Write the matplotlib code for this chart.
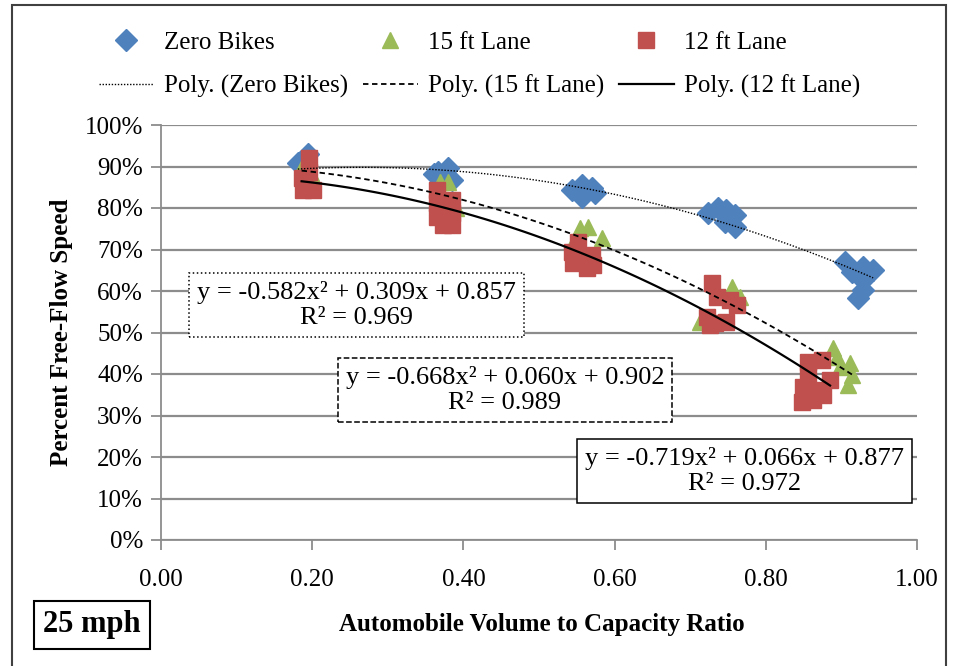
import numpy as np
import matplotlib
matplotlib.use('Agg')
import matplotlib.pyplot as plt
from matplotlib.patches import Rectangle
from matplotlib.lines import Line2D

plt.rcParams['font.family'] = ['Liberation Serif', 'DejaVu Serif']

# данные (v/c, доля скорости свободного потока)
zero_x = [0.181, 0.194, 0.361, 0.366, 0.380, 0.385,
          0.544, 0.557, 0.570, 0.557, 0.574,
          0.724, 0.737, 0.748, 0.759, 0.746, 0.759,
          0.905, 0.914, 0.929, 0.942, 0.929, 0.929, 0.922]
zero_y = [0.908, 0.930, 0.882, 0.887, 0.896, 0.867,
          0.843, 0.855, 0.848, 0.827, 0.836,
          0.787, 0.800, 0.796, 0.783, 0.766, 0.754,
          0.670, 0.646, 0.658, 0.651, 0.627, 0.602, 0.583]

lane15_x = [0.186, 0.198, 0.369, 0.380, 0.390,
            0.554, 0.565, 0.583, 0.545,
            0.755, 0.766, 0.713,
            0.889, 0.894, 0.898, 0.911, 0.914, 0.909]
lane15_y = [0.900, 0.885, 0.863, 0.863, 0.800,
            0.752, 0.755, 0.728, 0.716,
            0.610, 0.585, 0.525,
            0.462, 0.441, 0.417, 0.426, 0.398, 0.373]

lane12_x = [0.196, 0.196, 0.186, 0.188, 0.201, 0.190,
            0.365, 0.365, 0.365, 0.373, 0.385, 0.385, 0.385,
            0.552, 0.552, 0.545, 0.563, 0.570, 0.571, 0.544,
            0.729, 0.735, 0.753, 0.762, 0.722, 0.733, 0.748, 0.726,
            0.856, 0.874, 0.856, 0.885, 0.849, 0.867, 0.876, 0.848, 0.863]
lane12_y = [0.920, 0.887, 0.872, 0.843, 0.843, 0.860,
            0.843, 0.812, 0.779, 0.759, 0.759, 0.788, 0.820,
            0.718, 0.687, 0.667, 0.655, 0.687, 0.663, 0.694,
            0.619, 0.586, 0.578, 0.566, 0.537, 0.522, 0.526, 0.518,
            0.429, 0.434, 0.398, 0.386, 0.369, 0.361, 0.349, 0.333, 0.337]

# коэффициенты полиномиальных трендов (a, b, c) и R²
zero_coef = [-0.582, 0.309, 0.857]
lane15_coef = [-0.668, 0.060, 0.902]
lane12_coef = [-0.719, 0.066, 0.877]
r2 = [0.969, 0.989, 0.972]

blue = '#4F81BD'
green = '#9BBB59'
red = '#C0504D'
grid_c = '#8C8C8C'
FS = 18

fig = plt.figure(figsize=(9.55, 6.66), dpi=100)
ax = fig.add_axes([161 / 955, 126 / 666, 756 / 955, 415 / 666])

ax.plot(zero_x, zero_y, 'D', color=blue, ms=11, mec=blue, zorder=3)
ax.plot(lane15_x, lane15_y, '^', color=green, ms=12, mec=green, zorder=4)
ax.plot(lane12_x, lane12_y, 's', color=red, ms=11, mec=red, zorder=5)

styles = [(zero_x, zero_coef, (0, (1, 1.2)), 1.0),
          (lane15_x, lane15_coef, (0, (3, 2)), 1.3),
          (lane12_x, lane12_coef, '-', 1.6)]
for xs, coef, ls, lw in styles:
    xx = np.linspace(min(xs), max(xs), 100)
    ax.plot(xx, np.polyval(coef, xx), color='black', ls=ls, lw=lw, zorder=6)

ax.set_xlim(0, 1)
ax.set_ylim(0, 1)
ax.set_xticks(np.arange(0, 1.01, 0.2))
ax.set_xticklabels([f'{v:.2f}' for v in np.arange(0, 1.01, 0.2)])
ax.set_yticks(np.arange(0, 1.01, 0.1))
ax.set_yticklabels([f'{int(round(v * 100))}%' for v in np.arange(0, 1.01, 0.1)])
ax.tick_params(labelsize=FS, colors=grid_c, labelcolor='black', length=7, width=1.3, pad=6)
ax.tick_params(axis='x', pad=14)
ax.grid(axis='y', color=grid_c, lw=1.6)
ax.set_axisbelow(True)
for s in ['top', 'right']:
    ax.spines[s].set_visible(False)
for s in ['left', 'bottom']:
    ax.spines[s].set_color(grid_c)
    ax.spines[s].set_linewidth(1.3)

ax.set_ylabel('Percent Free-Flow Speed', fontsize=FS, fontweight='bold', labelpad=8)
fig.text(0.567, 0.062, 'Automobile Volume to Capacity Ratio', fontsize=FS,
         fontweight='bold', ha='center', va='center')
fig.text(0.0963, 0.0616, '25 mph', fontsize=22, fontweight='bold', ha='center', va='center',
         bbox=dict(boxstyle='square,pad=0.3', fc='white', ec='black', lw=1.5))


def eq_text(coef, r):
    return (f'y = {coef[0]:.3f}x² + {coef[1]:.3f}x + {coef[2]:.3f}\n'
            f'R² = {r:.3f}')


boxes = [(0.259, 0.566, zero_coef, r2[0], ':'),
         (0.455, 0.361, lane15_coef, r2[1], '--'),
         (0.772, 0.166, lane12_coef, r2[2], '-')]
for bx, by, coef, r, ls in boxes:
    ax.text(bx, by, eq_text(coef, r), transform=ax.transAxes, fontsize=19,
            ha='center', va='center', multialignment='center', zorder=7, linespacing=1.2,
            bbox=dict(boxstyle='square,pad=0.3', fc='white', ec='black', lw=1.1, ls=ls))

handles = [
    Line2D([], [], ls='none', marker='D', color=blue, ms=11),
    Line2D([], [], color='black', ls=(0, (1, 1.2)), lw=1.0),
    Line2D([], [], ls='none', marker='^', color=green, ms=12),
    Line2D([], [], color='black', ls=(0, (3, 2)), lw=1.3),
    Line2D([], [], ls='none', marker='s', color=red, ms=11),
    Line2D([], [], color='black', ls='-', lw=1.6),
]
labels = ['Zero Bikes', 'Poly. (Zero Bikes)', '15 ft Lane', 'Poly. (15 ft Lane)',
          '12 ft Lane', 'Poly. (12 ft Lane)']
fig.legend(handles, labels, ncol=3, loc='center', bbox_to_anchor=(0.502, 0.903),
           frameon=False, fontsize=FS, handlelength=2.2, handletextpad=0.4,
           columnspacing=0.6, labelspacing=0.85)

fig.add_artist(Rectangle((12 / 955, -0.05), 934 / 955, 1.05 - 5 / 666,
                         transform=fig.transFigure, fill=False, ec='#404040', lw=1.5))

fig.savefig('out.png', dpi=100)
